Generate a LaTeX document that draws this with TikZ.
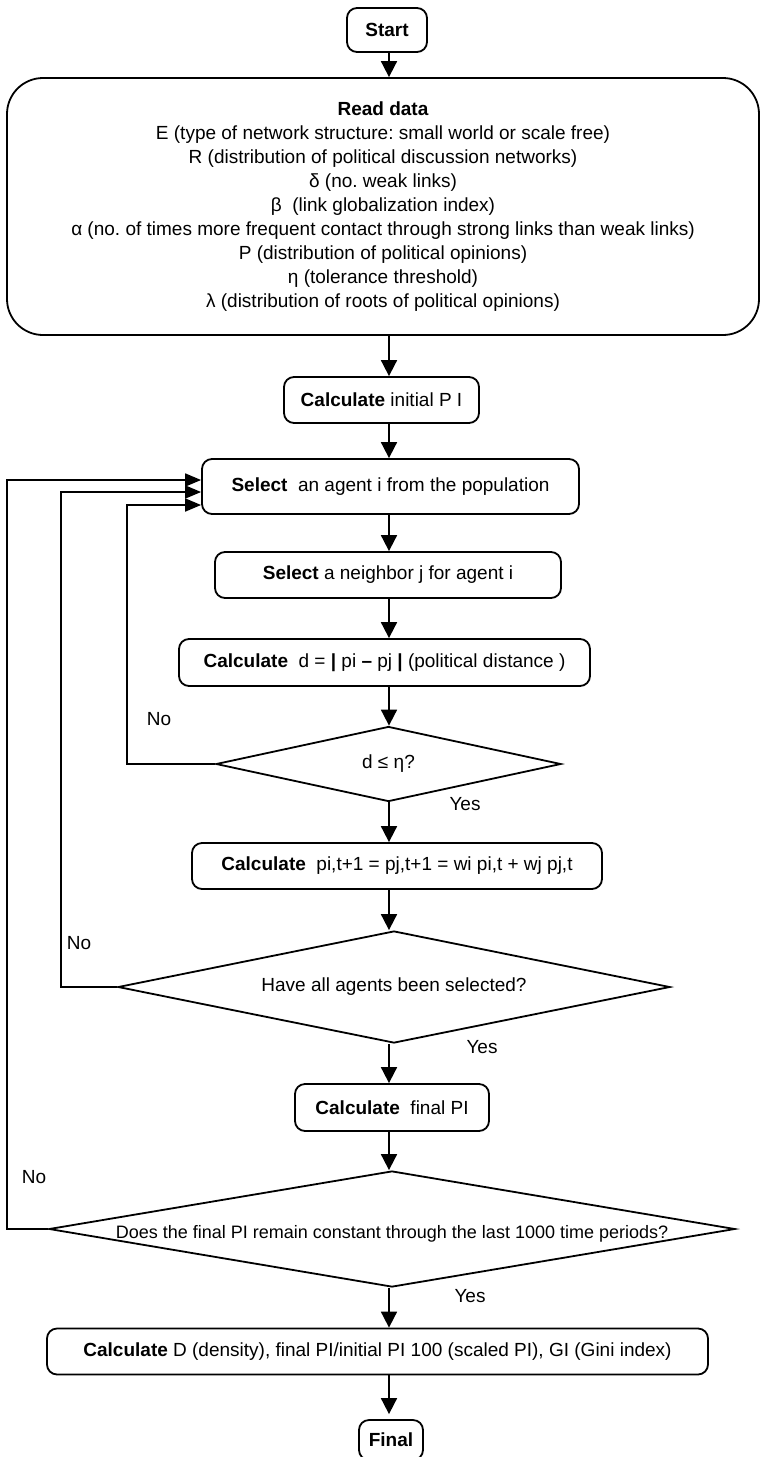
\documentclass[tikz,border=0pt]{standalone}
\usepackage{fontspec}
\setmainfont{Liberation Sans}
\usetikzlibrary{shapes.geometric,arrows.meta}
\frenchspacing

\tikzset{
  box/.style={draw, rounded corners=5pt, line width=0.9pt, inner sep=0pt, align=center},
  decision/.style={draw, diamond, line width=0.9pt, inner sep=0pt},
  flow/.style={line width=0.9pt, -{Triangle[length=8pt,width=8pt]}},
  back/.style={line width=0.9pt, -{Triangle[length=8pt,width=6.5pt]}},
  lbl/.style={inner sep=0pt}
}

\begin{document}
\begin{tikzpicture}[x=0.5pt,y=-0.5pt, font=\fontsize{9.5}{12}\selectfont]
    \useasboundingbox (0,0) rectangle (760,1457);

    % Spine of the flow, all vertical arrows run along it
    \coordinate (spine) at (389,0);

    % Start and input data
    \node (start) [box, minimum width=40pt, minimum height=22pt] at (387,30) {\textbf{Start}};
    \node (read) [box, rounded corners=18pt, minimum width=376pt, minimum height=128.5pt] at (383,206.5)
      {\textbf{Read data}\\
       E (type of network structure: small world or scale free)\\
       R (distribution of political discussion networks)\\
       δ (no. weak links)\\
       β\ \ (link globalization index)\\
       α (no. of times more frequent contact through strong links than weak links)\\
       P (distribution of political opinions)\\
       η (tolerance threshold)\\
       λ (distribution of roots of political opinions)};

    % Process boxes
    \node (init) [box, minimum width=97.5pt, minimum height=23pt] at (381.5,400) {\textbf{Calculate} initial P I};
    \node (agent) [box, minimum width=188.5pt, minimum height=27.5pt] at (390.5,486.5) {\textbf{Select}\ \ an agent i from the population};
    \node (nbr) [box, minimum width=173pt, minimum height=23pt] at (388,575) {\textbf{Select} a neighbor j for agent i};
    \node (dist) [box, minimum width=205.5pt, minimum height=23.5pt] at (384.5,662.5)
      {\textbf{Calculate}\ \ d = \textbf{|} pi \textbf{–} pj \textbf{|} (political distance )};

    % Decision: tolerance
    \node (tol) [decision, aspect=4.6, minimum width=172.5pt, minimum height=37.5pt] at (388.5,764) {d ≤ η?};

    \node (upd) [box, minimum width=205pt, minimum height=23pt] at (397,866)
      {\textbf{Calculate}\ \ pi,t+1 = pj,t+1 = wi pi,t + wj pj,t};

    % Decision: all agents
    \node (all) [decision, aspect=4.9, minimum width=276pt, minimum height=56pt] at (394,987) {Have all agents been selected?};

    \node (fin) [box, minimum width=97pt, minimum height=23.5pt] at (392,1107.5) {\textbf{Calculate}\ \ final PI};

    % Decision: steady state
    \node (conv) [decision, aspect=5.9, minimum width=343pt, minimum height=58pt, font=\fontsize{9}{12}\selectfont] at (392,1229)
      {\raisebox{-4.5pt}[0pt][0pt]{Does the final PI remain constant through the last 1000 time periods?}};

    \node (res) [box, minimum width=330.5pt, minimum height=23pt] at (377.5,1351.5)
      {\textbf{Calculate} D (density), final PI/initial PI 100 (scaled PI), GI (Gini index)};
    \node (final) [box, minimum width=32pt, minimum height=20pt] at (391,1440) {\textbf{Final}};

    % Main arrows
    \draw[flow] (spine |- start.south) -- (spine |- read.north);
    \draw[flow] (spine |- read.south) -- (spine |- init.north);
    \draw[flow] (spine |- init.south) -- (spine |- agent.north);
    \draw[flow] (spine |- agent.south) -- (spine |- nbr.north);
    \draw[flow] (spine |- nbr.south) -- (spine |- dist.north);
    \draw[flow] (spine |- dist.south) -- (spine |- tol.north);
    \draw[flow] (spine |- tol.south) -- (spine |- upd.north);
    \draw[flow] (spine |- upd.south) -- (spine |- all.north);
    \draw[flow] (spine |- all.south) -- (spine |- fin.north);
    \draw[flow] (spine |- fin.south) -- (spine |- conv.north);
    \draw[flow] (spine |- conv.south) -- (spine |- res.north);
    \draw[flow, shorten >=2.5pt] (spine |- res.south) -- (spine |- final.north);

    % Loops back to agent selection
    \coordinate (l1) at (127,505);
    \coordinate (l2) at (61,492);
    \coordinate (l3) at (7,480);
    \draw[back] (tol.west) -| (l1) -- (l1 -| agent.west);
    \draw[back] (all.west) -| (l2) -- (l2 -| agent.west);
    \draw[back] (conv.west) -| (l3) -- (l3 -| agent.west);

    % Yes / No labels
    \node[lbl] (no1) at (159,719) {No};
    \node[lbl] (no2) at (79,943) {No};
    \node[lbl] (no3) at (34,1177) {No};
    \node[lbl] (yes1) at (465,804) {Yes};
    \node[lbl] (yes2) at (482,1047) {Yes};
    \node[lbl] (yes3) at (470,1296) {Yes};

\end{tikzpicture}
\end{document}
